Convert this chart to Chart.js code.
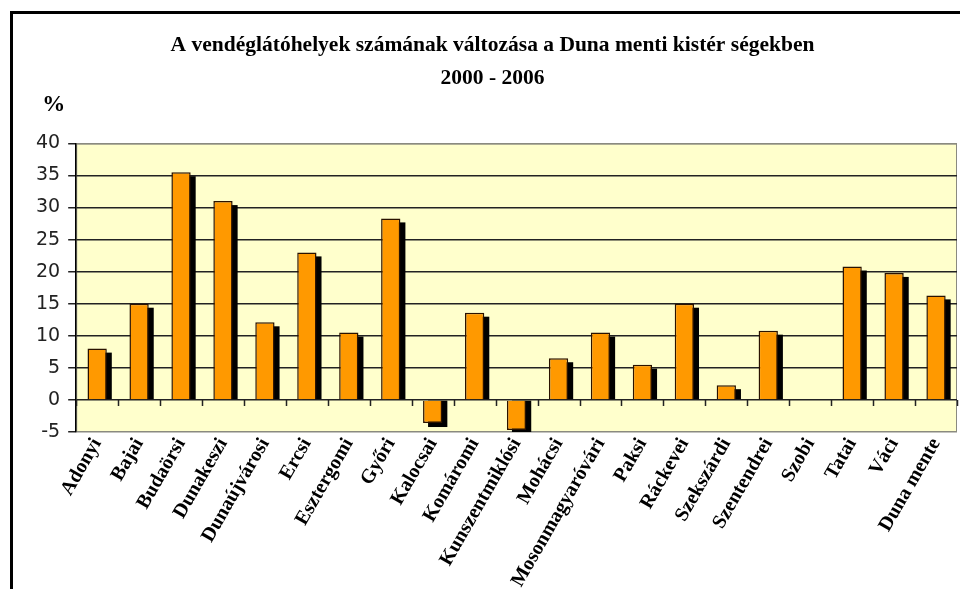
<!DOCTYPE html>
<html>
<head>
<meta charset="utf-8">
<script src="https://cdn.jsdelivr.net/npm/chart.js@4"></script>
<style>
  html, body { margin: 0; padding: 0; background: #fff; }
  #wrap { width: 960px; height: 589px; }
</style>
</head>
<body>
<div id="wrap"><canvas id="chart" width="960" height="589"></canvas></div>
<script>
const categories = ['Adonyi', 'Bajai', 'Budaörsi', 'Dunakeszi', 'Dunaújvárosi', 'Ercsi', 'Esztergomi',
  'Győri', 'Kalocsai', 'Komáromi', 'Kunszentmiklósi', 'Mohácsi', 'Mosonmagyaróvári', 'Paksi',
  'Ráckevei', 'Szekszárdi', 'Szentendrei', 'Szobi', 'Tatai', 'Váci', 'Duna mente'];
const values = [8.0, 15.0, 35.5, 31.0, 12.1, 23.0, 10.5, 28.3, -3.6, 13.6, -4.7, 6.5, 10.5, 5.5,
  15.0, 2.3, 10.8, 0, 20.8, 19.8, 16.3];
const titleLines = ['A vendéglátóhelyek számának változása a Duna menti kistér ségekben', '2000 - 2006'];
const unitLabel = '%';

const ctx = document.getElementById('chart').getContext('2d');

// frame, yellow plot background, bar shadows, ticks on the zero line, unit label
const decor = {
  id: 'decor',
  beforeDraw(chart) {
    const c = chart.ctx;
    const a = chart.chartArea;
    c.save();
    c.fillStyle = '#fff';
    c.fillRect(0, 0, chart.width, chart.height);
    c.strokeStyle = '#000';
    c.lineWidth = 3;
    c.strokeRect(11.5, 12.5, chart.width + 20, chart.height + 20);
    c.fillStyle = '#FFFFCC';
    c.fillRect(a.left, a.top, a.right - a.left, a.bottom - a.top);
    c.strokeStyle = '#8a8a80';
    c.lineWidth = 1;
    c.strokeRect(a.left + 0.5, a.top + 0.5, a.right - a.left - 1, a.bottom - a.top - 1);
    c.restore();
  },
  beforeDatasetsDraw(chart) {
    const c = chart.ctx;
    const a = chart.chartArea;
    const meta = chart.getDatasetMeta(0);
    c.save();
    c.beginPath();
    c.rect(a.left, a.top, a.right - a.left, a.bottom - a.top);
    c.clip();
    c.fillStyle = '#000';
    meta.data.forEach(bar => {
      const p = bar.getProps(['x', 'y', 'base', 'width'], true);
      const x = p.x - p.width / 2 + 5;
      if (p.base - p.y > 4) {
        c.fillRect(x, p.y + 4, p.width, p.base - p.y - 4);
      } else if (p.y - p.base > 0.5) {
        c.fillRect(x, p.base, p.width, p.y - p.base + 4);
      }
    });
    c.restore();
  },
  afterDatasetsDraw(chart) {
    const c = chart.ctx;
    const xs = chart.scales.x;
    const y0 = chart.scales.y.getPixelForValue(0);
    const step = (xs.right - xs.left) / categories.length;
    c.save();
    c.strokeStyle = '#222';
    c.lineWidth = 1.5;
    c.beginPath();
    for (let i = 0; i <= categories.length; i++) {
      const x = Math.round(xs.left + i * step) + 0.5;
      c.moveTo(x, y0);
      c.lineTo(x, y0 + 6);
    }
    c.stroke();
    c.restore();
  },
  afterDraw(chart) {
    const c = chart.ctx;
    const a = chart.chartArea;
    c.save();
    c.fillStyle = '#000';
    c.font = 'bold 23px "Liberation Serif"';
    c.textAlign = 'left';
    c.textBaseline = 'alphabetic';
    c.fillText(unitLabel, a.left - 34, a.top - 32);
    c.restore();
  }
};

const config = {
  type: 'bar',
  data: {
    labels: categories,
    datasets: [{
      data: values,
      backgroundColor: '#FF9900',
      borderColor: '#2a1200',
      borderWidth: 1.5,
      barPercentage: 0.46,
      categoryPercentage: 1
    }]
  },
  options: {
    responsive: false,
    animation: false,
    layout: { padding: { left: 28, right: 3, top: 20, bottom: 0 } },
    plugins: {
      legend: { display: false },
      tooltip: { enabled: false },
      title: {
        display: true,
        text: titleLines,
        color: '#000',
        font: { family: 'Liberation Serif', size: 21.5, weight: 'bold', lineHeight: 1.52 },
        padding: { top: 9, bottom: 49 }
      }
    },
    scales: {
      x: {
        grid: { display: false, drawTicks: false },
        border: { display: false },
        afterFit(scale) {
          scale.paddingLeft = 0;
          scale.paddingRight = 0;
          scale.height = 157;
        },
        ticks: {
          autoSkip: false,
          minRotation: 60,
          maxRotation: 60,
          padding: 2,
          color: '#000',
          font: { family: 'Liberation Serif', size: 20, weight: 'bold' }
        }
      },
      y: {
        min: -5,
        max: 40,
        ticks: {
          stepSize: 5,
          padding: 8,
          color: '#222',
          font: { family: 'DejaVu Sans', size: 19 }
        },
        grid: {
          color: (c) => (c.tick && (c.tick.value === 40 || c.tick.value === -5)) ? '#8a8a80' : '#222',
          tickColor: '#222',
          lineWidth: 1.5,
          tickLength: 8
        },
        border: { color: '#000', width: 1.5 }
      }
    }
  },
  plugins: [decor]
};

const myChart = new Chart(ctx, config);
</script>
</body>
</html>
